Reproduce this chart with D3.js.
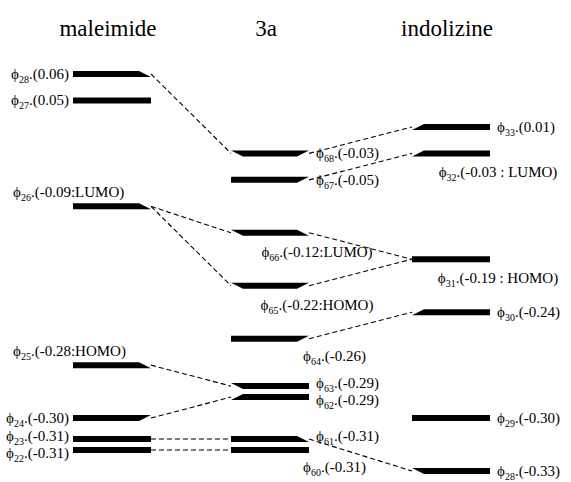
<!DOCTYPE html>
<html>
<head>
<meta charset="UTF-8">
<title>Orbital correlation diagram</title>
<script src="https://d3js.org/d3.v7.min.js"></script>
</head>
<body style="margin:0">
<script>
  // columns of the diagram
  const columns = ["maleimide", "3a", "indolizine"];

  // maleimide orbitals
  const maleimideOrbitals = [28, 27, 26, 25, 24, 23, 22];
  const maleimideEnergies = [0.06, 0.05, -0.09, -0.28, -0.30, -0.31, -0.31];
  const maleimideTags = ["", "", "LUMO", "HOMO", "", "", ""];

  // 3a orbitals
  const adductOrbitals = [68, 67, 66, 65, 64, 63, 62, 61, 60];
  const adductEnergies = [-0.03, -0.05, -0.12, -0.22, -0.26, -0.29, -0.29, -0.31, -0.31];
  const adductTags = ["", "", "LUMO", "HOMO", "", "", "", "", ""];

  // indolizine orbitals
  const indolizineOrbitals = [33, 32, 31, 30, 29, 28];
  const indolizineEnergies = [0.01, -0.03, -0.19, -0.24, -0.30, -0.33];
  const indolizineTags = ["", "LUMO", "HOMO", "", "", ""];

  // dashed correlation lines (left level -> right level)
  const correlations = [
    ["maleimide:28", "3a:68"], ["maleimide:26", "3a:66"], ["maleimide:26", "3a:65"],
    ["maleimide:25", "3a:63"], ["maleimide:24", "3a:62"], ["maleimide:23", "3a:61"],
    ["maleimide:22", "3a:60"],
    ["3a:68", "indolizine:33"], ["3a:67", "indolizine:32"], ["3a:66", "indolizine:31"],
    ["3a:65", "indolizine:31"], ["3a:64", "indolizine:30"], ["3a:61", "indolizine:28"]
  ];

  // where the label sits relative to its bar
  const labelSide = {
    "maleimide:26": "above", "maleimide:25": "above",
    "3a:66": "below", "3a:65": "below", "3a:64": "belowEnd", "3a:60": "belowEnd",
    "indolizine:32": "below", "indolizine:31": "below"
  };
  const tagSep = { "maleimide": ":", "3a": ":", "indolizine": " : " };

  const width = 571, height = 482;
  const barW = 78, barH = 6, taper = 12;
  const serif = "'Liberation Serif'";

  const svg = d3.select("body").append("svg")
    .attr("width", width)
    .attr("height", height);

  // gather all orbitals
  const orbitals = [];
  [[maleimideOrbitals, maleimideEnergies, maleimideTags],
   [adductOrbitals, adductEnergies, adductTags],
   [indolizineOrbitals, indolizineEnergies, indolizineTags]].forEach((set, ci) => {
    set[0].forEach((n, i) => {
      orbitals.push({ col: columns[ci], n: n, e: set[1][i], tag: set[2][i], key: columns[ci] + ":" + n });
    });
  });

  // schematic energy axis: one slot per distinct energy
  const energies = Array.from(new Set(orbitals.map(d => d.e))).sort((a, b) => b - a);
  const y = d3.scalePoint().domain(energies).range([74, 471]);
  const x = d3.scaleOrdinal().domain(columns).range([112, 270, 451]);

  // split degenerate levels
  d3.group(orbitals, d => d.col + "|" + d.e).forEach(g => {
    g.sort((a, b) => b.n - a.n);
    g.forEach((d, k) => {
      const off = k - (g.length - 1) / 2;
      d.y = y(d.e) + off * 11;
      d.yLab = y(d.e) + off * 17;
      d.x0 = x(d.col) - barW / 2;
      d.x1 = x(d.col) + barW / 2;
    });
  });
  const byKey = new Map(orbitals.map(d => [d.key, d]));

  // direction of the link at each bar end (+1 down, -1 up)
  orbitals.forEach(d => { d.right = 0; d.left = 0; });
  correlations.forEach(([a, b]) => {
    const A = byKey.get(a), B = byKey.get(b);
    A.right += Math.sign(B.y - A.y);
    B.left += Math.sign(A.y - B.y);
  });

  // headers
  svg.selectAll(".head")
    .data(columns)
    .enter().append("text")
    .attr("class", "head")
    .attr("x", d => x(d) - 4)
    .attr("y", 36)
    .attr("text-anchor", "middle")
    .attr("font-size", 23)
    .style("font-family", serif)
    .text(d => d);

  // links
  svg.selectAll(".link")
    .data(correlations)
    .enter().append("line")
    .attr("class", "link")
    .attr("fill", "none")
    .attr("stroke", "#000")
    .attr("stroke-width", 1.1)
    .attr("stroke-dasharray", "5,3")
    .attr("x1", d => byKey.get(d[0]).x1)
    .attr("y1", d => byKey.get(d[0]).y)
    .attr("x2", d => byKey.get(d[1]).x0)
    .attr("y2", d => byKey.get(d[1]).y);

  // bars, with a taper where a link leaves
  function barPath(d) {
    const top = d.y - barH / 2, bot = d.y + barH / 2;
    const r = Math.sign(d.right), l = Math.sign(d.left);
    const pts = [
      [r <= 0 ? d.x1 : d.x1 - taper, top],
      [r >= 0 ? d.x1 : d.x1 - taper, bot],
      [l >= 0 ? d.x0 : d.x0 + taper, bot],
      [l <= 0 ? d.x0 : d.x0 + taper, top]
    ];
    return "M" + pts.map(p => p.join(",")).join("L") + "Z";
  }

  svg.selectAll(".level")
    .data(orbitals)
    .enter().append("path")
    .attr("class", "level")
    .attr("fill", "#000")
    .attr("d", barPath);

  // labels
  const label = svg.selectAll(".lab")
    .data(orbitals)
    .enter().append("text")
    .attr("class", "lab")
    .attr("font-size", 15)
    .style("font-family", serif)
    .each(function (d) {
      const side = labelSide[d.key] || (d.col === "maleimide" ? "left" : "right");
      const t = d3.select(this);
      if (side === "left") t.attr("x", d.x0 - 4).attr("y", d.yLab + 5).attr("text-anchor", "end");
      else if (side === "right") t.attr("x", d.x1 + 7).attr("y", d.yLab + 5);
      else if (side === "above") t.attr("x", d.x0 - 60).attr("y", d.y - 9);
      else if (side === "below") t.attr("x", d.x1 + 8).attr("y", d.y + 24).attr("text-anchor", "middle");
      else t.attr("x", d.x1 - 6).attr("y", d.y + 22);
    });

  label.append("tspan").text("\u03D5");
  label.append("tspan").attr("dy", 4).attr("font-size", 10).text(d => d.n);
  label.append("tspan").attr("dy", -4)
    .text(d => ".(" + d.e.toFixed(2) + (d.tag ? tagSep[d.col] + d.tag : "") + ")");
</script>
</body>
</html>
